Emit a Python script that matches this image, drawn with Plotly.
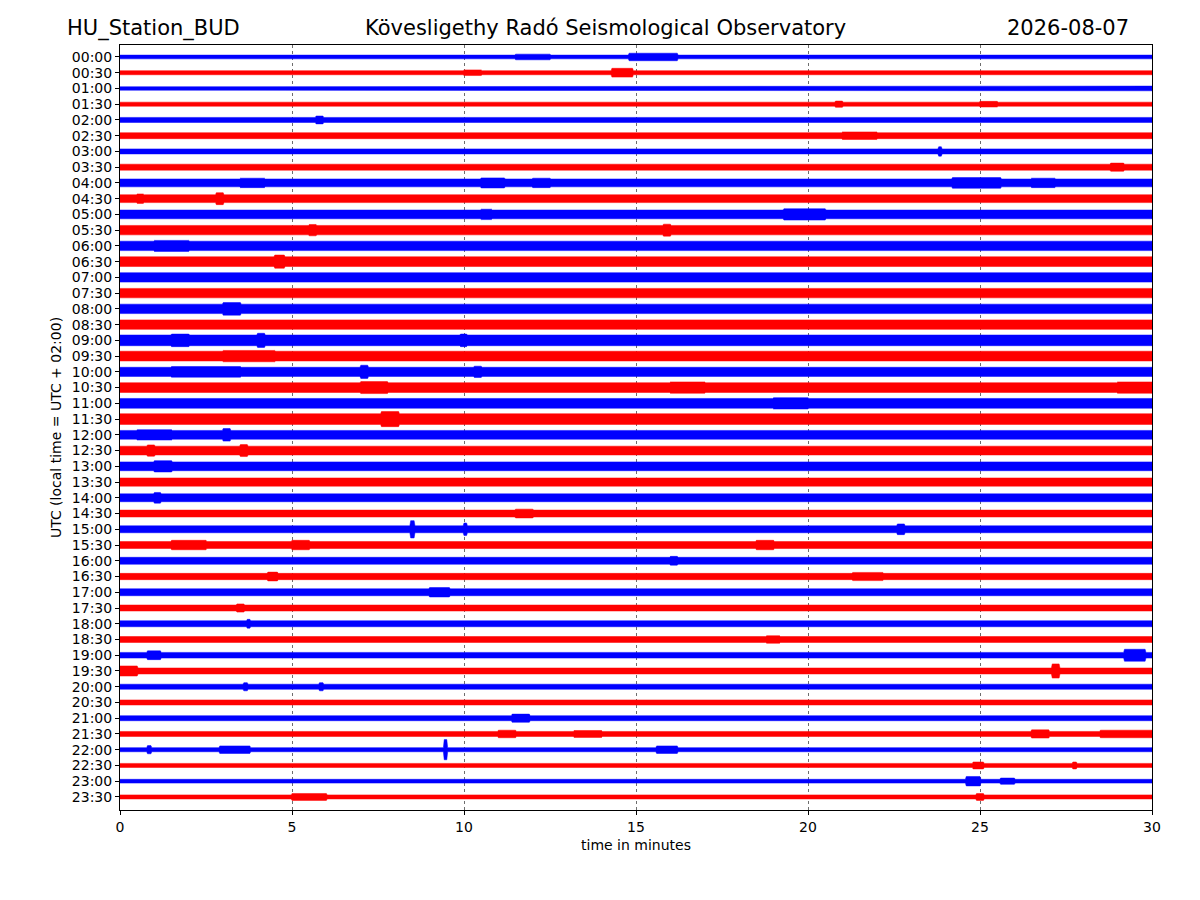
import numpy as np
import plotly.graph_objects as go

# hour labels of the 48 half-hour lines (top to bottom)
row_labels = ["%02d:%02d" % (h, m) for h in range(24) for m in (0, 30)]

# typical half-amplitude of each line, in units of line spacing
base_amp = [0.12, 0.13, 0.11, 0.13, 0.16, 0.19, 0.16, 0.19,
            0.25, 0.25, 0.28, 0.30, 0.30, 0.31, 0.30, 0.30,
            0.30, 0.30, 0.34, 0.31, 0.29, 0.31, 0.31, 0.34,
            0.28, 0.28, 0.28, 0.26, 0.25, 0.22, 0.22, 0.22,
            0.22, 0.20, 0.22, 0.19, 0.19, 0.19, 0.18, 0.19,
            0.16, 0.16, 0.16, 0.16, 0.13, 0.13, 0.12, 0.13]

# louder bits seen on the record: (line, start min, end min, half-amplitude)
events = [
    (0, 14.8, 16.2, 0.24), (0, 11.5, 12.5, 0.18), (0, 25.0, 25.5, 0.16),
    (1, 14.3, 14.9, 0.28), (1, 10.0, 10.5, 0.18), (1, 19.5, 20.5, 0.16),
    (2, 29.0, 30.0, 0.15),
    (3, 25.0, 25.5, 0.18), (3, 20.8, 21.0, 0.20),
    (4, 14.5, 15.0, 0.20), (4, 5.7, 5.9, 0.25),
    (5, 21.0, 22.0, 0.24),
    (6, 23.8, 23.9, 0.30), (6, 28.5, 29.5, 0.20),
    (7, 28.8, 29.2, 0.26),
    (8, 24.2, 25.6, 0.34), (8, 10.5, 11.2, 0.32), (8, 12.0, 12.5, 0.30),
    (8, 3.5, 4.2, 0.30), (8, 26.5, 27.2, 0.30),
    (9, 2.8, 3.0, 0.38), (9, 0.5, 0.7, 0.30),
    (10, 19.3, 20.5, 0.36), (10, 5.3, 5.6, 0.32), (10, 10.5, 10.8, 0.33),
    (11, 15.8, 16.0, 0.38), (11, 5.5, 5.7, 0.36),
    (12, 1.0, 2.0, 0.35),
    (13, 4.5, 4.8, 0.42),
    (16, 3.0, 3.5, 0.40), (16, 0.5, 1.5, 0.34),
    (18, 1.5, 2.0, 0.40), (18, 4.0, 4.2, 0.45), (18, 9.9, 10.1, 0.40),
    (19, 3.0, 4.5, 0.36),
    (20, 7.0, 7.2, 0.42), (20, 1.5, 3.5, 0.34), (20, 10.3, 10.5, 0.36),
    (21, 7.0, 7.8, 0.38), (21, 16.0, 17.0, 0.36), (21, 29.0, 30.0, 0.36),
    (22, 19.0, 20.0, 0.36), (22, 5.0, 6.0, 0.34),
    (23, 7.6, 8.1, 0.48), (23, 8.5, 9.5, 0.38),
    (24, 3.0, 3.2, 0.40), (24, 0.5, 1.5, 0.33), (24, 27.5, 28.5, 0.32),
    (25, 0.8, 1.0, 0.36), (25, 3.5, 3.7, 0.38),
    (26, 1.0, 1.5, 0.36), (26, 18.0, 19.0, 0.32), (26, 16.0, 17.0, 0.32),
    (27, 17.5, 19.0, 0.30),
    (28, 1.0, 1.2, 0.34),
    (29, 11.5, 12.0, 0.28),
    (30, 8.45, 8.55, 0.55), (30, 10.0, 10.1, 0.40), (30, 22.6, 22.8, 0.34),
    (31, 1.5, 2.5, 0.30), (31, 5.0, 5.5, 0.30), (31, 18.5, 19.0, 0.30),
    (32, 16.0, 16.2, 0.28),
    (33, 4.3, 4.6, 0.28), (33, 21.3, 22.2, 0.26),
    (34, 9.0, 9.6, 0.30),
    (35, 3.4, 3.6, 0.26),
    (36, 3.7, 3.8, 0.28),
    (37, 18.8, 19.2, 0.24),
    (38, 29.2, 29.8, 0.38), (38, 0.8, 1.2, 0.28),
    (39, 0.0, 0.5, 0.32), (39, 27.1, 27.3, 0.45),
    (40, 3.6, 3.7, 0.26), (40, 5.8, 5.9, 0.26),
    (41, 26.5, 27.0, 0.20),
    (42, 11.4, 11.9, 0.26),
    (43, 11.0, 11.5, 0.24), (43, 13.2, 14.0, 0.22), (43, 26.5, 27.0, 0.26),
    (43, 28.5, 30.0, 0.24),
    (44, 0.8, 0.9, 0.26), (44, 2.9, 3.8, 0.24), (44, 9.42, 9.52, 0.64),
    (44, 15.6, 16.2, 0.24),
    (45, 24.8, 25.1, 0.22), (45, 27.7, 27.8, 0.22),
    (46, 24.6, 25.0, 0.30), (46, 25.6, 26.0, 0.20),
    (47, 5.0, 6.0, 0.22), (47, 24.9, 25.1, 0.22),
]

colors = ["#0000ff", "#ff0000"]

fig = go.Figure()

t = np.linspace(0, 30, 1201)
for i, lab in enumerate(row_labels):
    env = np.full_like(t, base_amp[i])
    for r, s, e, a in events:
        if r == i:
            m = (t >= s) & (t <= e)
            env[m] = np.maximum(env[m], a)
    c = colors[i % 2]
    xs = np.concatenate([t, t[::-1]])
    ys = np.concatenate([i - env, (i + env)[::-1]])
    fig.add_trace(go.Scatter(x=xs, y=ys, mode="lines", fill="toself",
                             fillcolor=c, line=dict(color=c, width=0.5),
                             hoverinfo="skip", showlegend=False))

fig.update_xaxes(range=[0, 30], tickvals=[0, 5, 10, 15, 20, 25, 30],
                 showgrid=True, gridcolor="#6e6e6e", griddash="dot", gridwidth=0.7,
                 zeroline=False, showline=True, linecolor="black", linewidth=1,
                 mirror=True, ticks="outside", ticklen=4, tickcolor="black",
                 title=dict(text="time in minutes", font=dict(size=14), standoff=6),
                 tickfont=dict(size=14))
fig.update_yaxes(range=[47.83, -0.76], tickvals=list(range(48)), ticktext=row_labels,
                 showgrid=False, zeroline=False, showline=True, linecolor="black",
                 linewidth=1, mirror=True, ticks="outside", ticklen=4, tickcolor="black",
                 title=dict(text="UTC (local time = UTC + 02:00)", font=dict(size=14),
                            standoff=6),
                 tickfont=dict(size=14))

tfont = dict(size=21, color="black", family="DejaVu Sans")
fig.add_annotation(text="HU_Station_BUD", xref="paper", yref="paper", x=-0.053, y=1.022,
                   xanchor="left", yanchor="middle", showarrow=False, font=tfont)
fig.add_annotation(text="Köveslígethy Radó Seismological Observatory".replace("í", "i"),
                   xref="paper", yref="paper", x=0.47, y=1.022,
                   xanchor="center", yanchor="middle", showarrow=False, font=tfont)
fig.add_annotation(text="2026-08-07", xref="paper", yref="paper", x=0.98, y=1.022,
                   xanchor="right", yanchor="middle", showarrow=False, font=tfont)

# the page puts the figure 8px in from the corner, so size it to fit the window
fig.update_layout(width=1184, height=884, plot_bgcolor="white", paper_bgcolor="white",
                  margin=dict(l=112, r=40, t=37, b=82),
                  font=dict(family="DejaVu Sans", color="black", size=14))

fig.write_html("out.html")
